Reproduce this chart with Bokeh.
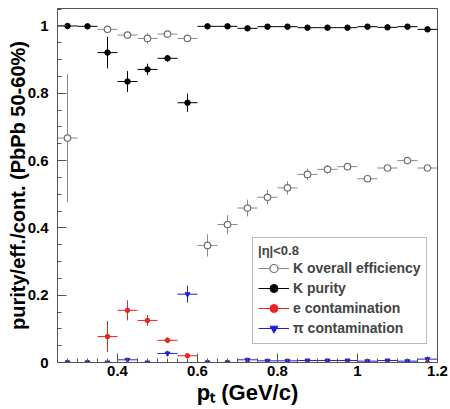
from bokeh.plotting import figure
from bokeh.models import (ColumnDataSource, FixedTicker, CustomJSTickFormatter,
                          Legend, LegendItem, Range1d)
from bokeh.embed import file_html
from bokeh.resources import INLINE

nan = float("nan")

# bin centres (GeV/c), half bin width 0.025
pt = [0.275, 0.325, 0.375, 0.425, 0.475, 0.525, 0.575, 0.625, 0.675, 0.725,
      0.775, 0.825, 0.875, 0.925, 0.975, 1.025, 1.075, 1.125, 1.175]
half_bin = 0.025

k_eff = [0.667, nan, 0.990, 0.973, 0.963, 0.976, 0.963, 0.348, 0.410, 0.459,
         0.491, 0.519, 0.559, 0.574, 0.582, 0.546, 0.578, 0.600, 0.578]
k_eff_err = [0.19, nan, 0.005, 0.010, 0.016, 0.008, 0.005, 0.033, 0.028, 0.025,
             0.022, 0.020, 0.017, 0.013, 0.010, 0.010, 0.008, 0.008, 0.008]

k_pur = [1.000, 0.999, 0.921, 0.835, 0.871, 0.904, 0.772, 0.999, 0.999, 0.993,
         0.998, 0.998, 0.995, 0.995, 0.995, 0.998, 0.996, 0.998, 0.990]
k_pur_err = [0.003, 0.003, 0.047, 0.031, 0.017, 0.010, 0.027, 0.003, 0.003, 0.003,
             0.003, 0.003, 0.003, 0.003, 0.003, 0.003, 0.003, 0.003, 0.003]

e_cont = [0.0, 0.0, 0.077, 0.155, 0.125, 0.066, 0.020, 0.0, 0.0, 0.0,
          0.0, 0.0, 0.0, 0.0, 0.0, 0.0, 0.0, 0.0, 0.0]
e_cont_err = [0.002, 0.002, 0.046, 0.030, 0.016, 0.008, 0.004, 0.002, 0.002, 0.002,
              0.002, 0.002, 0.002, 0.002, 0.002, 0.002, 0.002, 0.002, 0.002]

pi_cont = [0.0, 0.0, 0.0, 0.008, 0.0, 0.027, 0.203, 0.0, 0.0, 0.008,
           0.005, 0.005, 0.006, 0.006, 0.006, 0.004, 0.006, 0.004, 0.010]
pi_cont_err = [0.002, 0.002, 0.002, 0.006, 0.002, 0.008, 0.025, 0.002, 0.002, 0.006,
               0.004, 0.004, 0.004, 0.004, 0.004, 0.004, 0.004, 0.004, 0.008]

x_ticks = [0.4, 0.6, 0.8, 1.0, 1.2]
y_ticks = [0.0, 0.2, 0.4, 0.6, 0.8, 1.0]

labels = ["K overall efficiency", "K purity", "e contamination", "\u03c0 contamination"]

FONT = "Liberation Sans"

p = figure(width=450, height=409, output_backend="svg", toolbar_location=None,
           x_range=Range1d(0.25, 1.2), y_range=Range1d(0.0, 1.052),
           min_border_left=57, min_border_right=13, min_border_top=8, min_border_bottom=47)
p.xgrid.visible = False
p.ygrid.visible = False
p.outline_line_color = "#555555"
p.outline_line_width = 1
p.background_fill_color = "white"
p.border_fill_color = "white"

minor_x = [0.25 + 0.025 * i for i in range(39)]
minor_y = [0.05 * i for i in range(22)]
p.xaxis.ticker = FixedTicker(ticks=x_ticks, minor_ticks=minor_x)
p.yaxis.ticker = FixedTicker(ticks=y_ticks, minor_ticks=minor_y)
fmt = CustomJSTickFormatter(code="return tick.toFixed(1).replace(/\\.0$/, '');")
for ax in (p.xaxis[0], p.yaxis[0]):
    ax.formatter = fmt
    ax.axis_line_color = "#555555"
    ax.major_tick_line_color = "#555555"
    ax.minor_tick_line_color = "#555555"
    ax.major_tick_in = 9
    ax.major_tick_out = 0
    ax.minor_tick_in = 4
    ax.minor_tick_out = 0
    ax.major_label_text_font = FONT
    ax.major_label_text_font_style = "bold"
    ax.major_label_text_font_size = "15px"
    ax.major_label_text_color = "black"
    ax.axis_label_text_font = FONT
    ax.axis_label_text_font_style = "bold"
    ax.axis_label_text_color = "black"
p.xaxis.major_label_standoff = 3
p.yaxis.major_label_standoff = 9

p.yaxis.axis_label = "purity/eff./cont. (PbPb 50-60%)"
p.yaxis.axis_label_text_font_size = "20px"
p.yaxis.axis_label_standoff = -4
p.xaxis.axis_label = "p\u209c (GeV/c)"
p.xaxis.axis_label_text_font_size = "22px"
p.xaxis.axis_label_standoff = 1


def make_src(y, err):
    return ColumnDataSource(dict(
        x=pt, y=y,
        x0=[v - half_bin for v in pt], x1=[v + half_bin for v in pt],
        ylo=[a - b for a, b in zip(y, err)], yhi=[a + b for a, b in zip(y, err)]))


series = [
    (k_eff, k_eff_err, "#8a8a8a", dict(marker="circle", size=6.5, fill_color="white", line_color="#707070", line_width=1.2)),
    (k_pur, k_pur_err, "#000000", dict(marker="circle", size=5.5, fill_color="black", line_color="black")),
    (e_cont, e_cont_err, "#ee2222", dict(marker="circle", size=4.5, fill_color="#ee2222", line_color="#ee2222")),
    (pi_cont, pi_cont_err, "#2222cc", dict(marker="inverted_triangle", size=5, fill_color="#2222cc", line_color="#2222cc")),
]

items = []
for (vals, errs, col, mk), lab in zip(series, labels):
    src = make_src(vals, errs)
    h = p.segment(x0="x0", y0="y", x1="x1", y1="y", source=src, line_color=col, line_width=1)
    v = p.segment(x0="x", y0="ylo", x1="x", y1="yhi", source=src, line_color=col, line_width=1)
    s = p.scatter(x="x", y="y", source=src, **mk)
    items.append(LegendItem(label=lab, renderers=[h, s]))

legend = Legend(items=items, location=(195, 18), title="|\u03b7|<0.8",
                title_text_font=FONT, title_text_font_style="bold", title_text_font_size="13px",
                title_standoff=0,
                label_text_font=FONT, label_text_font_style="bold", label_text_font_size="14px",
                label_height=20, glyph_height=20, glyph_width=31, label_standoff=4,
                spacing=0, padding=5, margin=0,
                border_line_color="#777777", border_line_width=1.2,
                background_fill_color="white", background_fill_alpha=1.0)
p.add_layout(legend, "center")

open("out.html", "w").write(file_html(p, INLINE))
